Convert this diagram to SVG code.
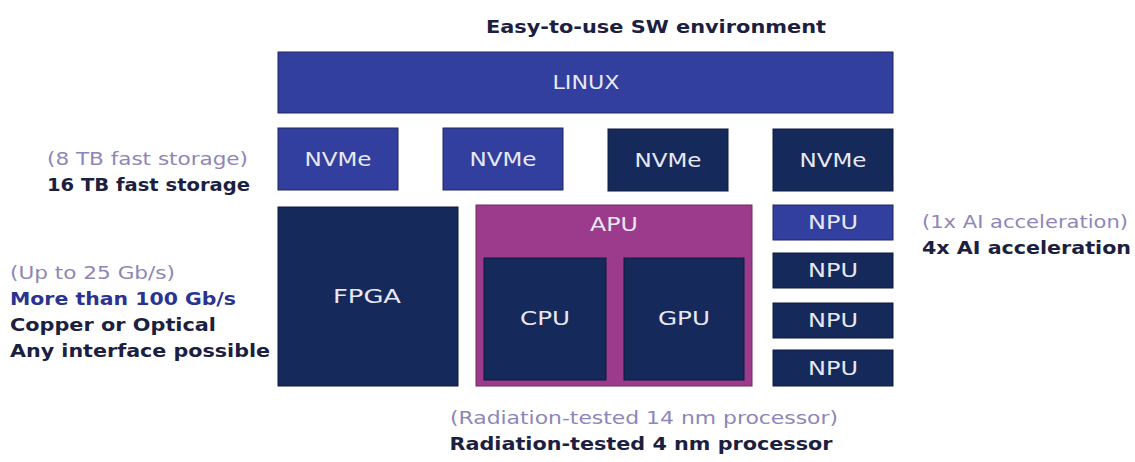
<svg xmlns="http://www.w3.org/2000/svg" width="1135" height="462" viewBox="0 0 1135 462">
<style>
.blue{fill:#323f9e;stroke:#1e2660;stroke-width:1}
.navy{fill:#15295b;stroke:#0d1a3c;stroke-width:1}
.apu{fill:#9c3a8c;stroke:#6e2a64;stroke-width:1}
.lbl{font-family:"DejaVu Sans","Liberation Sans",sans-serif;font-size:19px;fill:#e8e8f4;text-anchor:middle}
.old{font-family:"DejaVu Sans","Liberation Sans",sans-serif;font-size:18px;fill:#8e86b8}
.new{font-family:"DejaVu Sans","Liberation Sans",sans-serif;font-size:18px;font-weight:bold;fill:#1c2040}
</style>
<rect width="1135" height="462" fill="#ffffff"/>
<text x="656" y="33" class="new" text-anchor="middle" textLength="340" lengthAdjust="spacingAndGlyphs">Easy-to-use SW environment</text>
<g id="linux"><rect class="blue" x="278" y="52" width="615" height="61"/><text class="lbl" x="586" y="89" textLength="67" lengthAdjust="spacingAndGlyphs">LINUX</text></g>
<g id="nvme1"><rect class="blue" x="278" y="128" width="120" height="62"/><text class="lbl" x="338" y="166" textLength="67" lengthAdjust="spacingAndGlyphs">NVMe</text></g>
<g id="nvme2"><rect class="blue" x="443" y="128" width="120" height="62"/><text class="lbl" x="503" y="166" textLength="67" lengthAdjust="spacingAndGlyphs">NVMe</text></g>
<g id="nvme3"><rect class="navy" x="608" y="129" width="120" height="62"/><text class="lbl" x="668" y="167" textLength="67" lengthAdjust="spacingAndGlyphs">NVMe</text></g>
<g id="nvme4"><rect class="navy" x="773" y="129" width="120" height="62"/><text class="lbl" x="833" y="167" textLength="67" lengthAdjust="spacingAndGlyphs">NVMe</text></g>
<g id="fpga"><rect class="navy" x="278" y="207" width="180" height="179"/><text class="lbl" x="367" y="303" textLength="68" lengthAdjust="spacingAndGlyphs">FPGA</text></g>
<g id="apu"><rect class="apu" x="476" y="205" width="276" height="181"/><text class="lbl" x="614" y="231" textLength="48" lengthAdjust="spacingAndGlyphs">APU</text></g>
<g id="cpu"><rect class="navy" x="484" y="258" width="122" height="122"/><text class="lbl" x="545" y="325" textLength="50" lengthAdjust="spacingAndGlyphs">CPU</text></g>
<g id="gpu"><rect class="navy" x="624" y="258" width="120" height="122"/><text class="lbl" x="684" y="325" textLength="52" lengthAdjust="spacingAndGlyphs">GPU</text></g>
<g id="npu1"><rect class="blue" x="773" y="205" width="120" height="35"/><text class="lbl" x="833" y="229" textLength="50" lengthAdjust="spacingAndGlyphs">NPU</text></g>
<g id="npu2"><rect class="navy" x="773" y="253" width="120" height="35"/><text class="lbl" x="833" y="277" textLength="50" lengthAdjust="spacingAndGlyphs">NPU</text></g>
<g id="npu3"><rect class="navy" x="773" y="303" width="120" height="35"/><text class="lbl" x="833" y="327" textLength="50" lengthAdjust="spacingAndGlyphs">NPU</text></g>
<g id="npu4"><rect class="navy" x="773" y="350" width="120" height="36"/><text class="lbl" x="833" y="375" textLength="50" lengthAdjust="spacingAndGlyphs">NPU</text></g>
<g id="connectors"></g>
<g id="notes">
<text class="old" x="248" y="165" text-anchor="end" textLength="201" lengthAdjust="spacingAndGlyphs">(8 TB fast storage)</text>
<text class="new" x="250" y="191" text-anchor="end" textLength="203" lengthAdjust="spacingAndGlyphs">16 TB fast storage</text>
<text class="old" x="10" y="279" textLength="165" lengthAdjust="spacingAndGlyphs">(Up to 25 Gb/s)</text>
<text class="new" x="10" y="305" style="fill:#2a3390" textLength="226" lengthAdjust="spacingAndGlyphs">More than 100 Gb/s</text>
<text class="new" x="10" y="331" textLength="206" lengthAdjust="spacingAndGlyphs">Copper or Optical</text>
<text class="new" x="10" y="357" textLength="260" lengthAdjust="spacingAndGlyphs">Any interface possible</text>
<text class="old" x="922" y="228" textLength="206" lengthAdjust="spacingAndGlyphs">(1x AI acceleration)</text>
<text class="new" x="922" y="254" textLength="209" lengthAdjust="spacingAndGlyphs">4x AI acceleration</text>
<text class="old" x="644" y="424" text-anchor="middle" textLength="388" lengthAdjust="spacingAndGlyphs">(Radiation-tested 14 nm processor)</text>
<text class="new" x="641" y="450" text-anchor="middle" textLength="383" lengthAdjust="spacingAndGlyphs">Radiation-tested 4 nm processor</text>
</g>
</svg>
